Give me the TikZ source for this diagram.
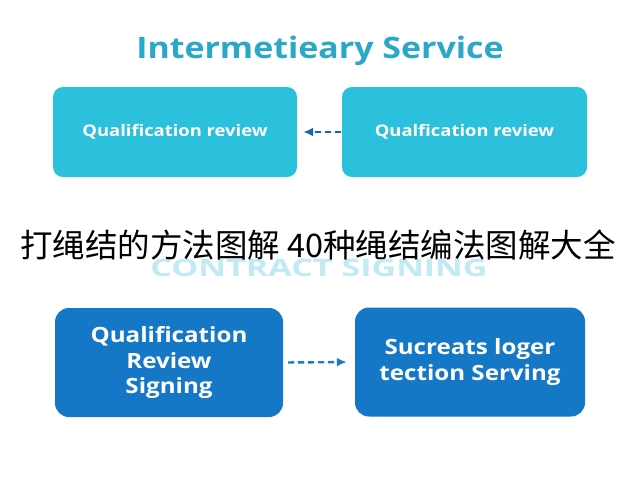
\documentclass[tikz,border=0pt]{standalone}
\usepackage{fontspec}
\setmainfont{Open Sans}[FakeStretch=1.15]
\newfontfamily\widefont{Open Sans}[FakeStretch=1.42]
\newfontfamily\cjk{Noto Sans CJK SC}
\usetikzlibrary{arrows.meta}
\definecolor{cyanbox}{HTML}{2BC0DC}
\definecolor{bluebox}{HTML}{1578C6}
\definecolor{titlecol}{HTML}{2AA8C8}
\definecolor{fadecol}{HTML}{C2EAF4}
\definecolor{arrowtop}{HTML}{1766B0}
\definecolor{arrowbot}{HTML}{1A7CC8}
\tikzset{
  topbox/.style={fill=cyanbox, rounded corners=10pt, text=white, font=\bfseries\fontsize{16}{19}\selectfont, inner sep=0pt, align=center},
  botbox/.style={fill=bluebox, rounded corners=14pt, text=white, font=\bfseries\fontsize{21}{25.5}\selectfont, inner sep=0pt, align=center},
  dasharrow/.style={line width=2.4pt, dash pattern=on 6pt off 4pt, -{Latex[length=10pt,width=9pt]}},
}
\begin{document}
\begin{tikzpicture}[x=1pt,y=-1pt]
\useasboundingbox (0,0) rectangle (640,480);
\fill[white] (0,0) rectangle (640,480);
\node[text=titlecol, font=\bfseries\fontsize{29.5}{34}\selectfont] (title) at (320,51) {Intermetieary Service};
\node[topbox, minimum width=244pt, minimum height=90pt] (tl) at (175,132) {Qualification review};
\node[topbox, minimum width=245pt, minimum height=90pt] (tr) at (464.5,132) {Qualfication review};
\draw[dasharrow, draw=arrowtop, fill=arrowtop, shorten <=1pt, shorten >=6pt] (tr.west) -- (tl.east);
\node[text=fadecol, font=\widefont\bfseries\fontsize{24}{28}\selectfont] (contract) at (319,268) {CONTRACT SIGNING};
\node[text=black, font=\cjk\fontsize{32.5}{38}\selectfont] (overlay) at (318,245) {打绳结的方法图解 40种绳结编法图解大全};
\node[botbox, minimum width=228pt, minimum height=109pt] (bl) at (169,362.5) {Qualification\\Review\\Signing};
\node[botbox, minimum width=230pt, minimum height=109pt] (br) at (470,362) {Sucreats loger\\tection Serving};
\draw[dasharrow, draw=arrowbot, fill=arrowbot, shorten <=5pt, shorten >=8pt] (bl.east) -- (br.west);
\end{tikzpicture}
\end{document}
